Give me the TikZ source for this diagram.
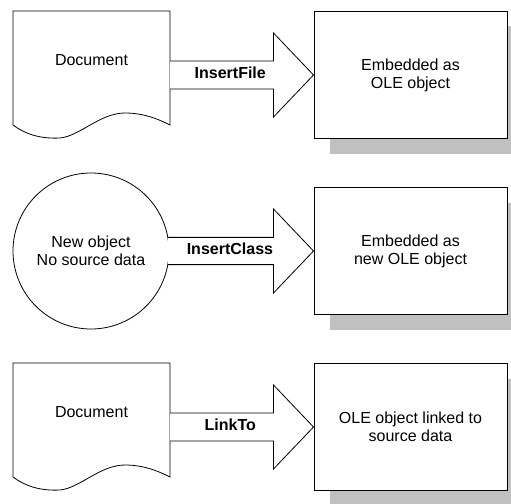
\documentclass[tikz,border=0pt]{standalone}
\usepackage{fontspec}
\setmainfont{Liberation Sans}
\usetikzlibrary{calc,shadows}
\definecolor{ombre}{RGB}{192,192,192}

\begin{document}
\begin{tikzpicture}[x=1pt,y=-1pt]
    \useasboundingbox (0,0) rectangle (511,503);
    \tikzstyle{contour}=[draw=black,line width=0.8pt,fill=white]
    \tikzstyle{texte}=[font=\fontsize{16}{18}\selectfont,align=center]
    \tikzstyle{boite}=[contour,texte,line width=1pt,minimum width=193pt,minimum height=127pt,
        drop shadow={shadow xshift=16pt,shadow yshift=-15pt,fill=ombre,opacity=1}]
    \tikzstyle{fleche}=[contour,line join=miter]
    \tikzstyle{etiquette}=[font=\fontsize{16}{18}\selectfont\bfseries,inner sep=0pt]

    %%%%%%%%%%%%%%%%%%%%%%%%%%%%%%%%%%%%%% Documents
    \draw[contour] (13,11)--(170,11)--(170,125) .. controls (160,120) and (145,113) .. (125,113)
        .. controls (100,113) and (80,136) .. (60,138) .. controls (40,139) and (25,134) .. (13,125)--cycle;
    \node[texte] (doc1) at (91.5,60) {Document};

    \draw[contour] (13,363)--(170,363)--(170,477) .. controls (160,472) and (145,465) .. (125,465)
        .. controls (100,465) and (80,488) .. (60,490) .. controls (40,491) and (25,486) .. (13,477)--cycle;
    \node[texte] (doc3) at (91.5,412) {Document};

    %%%%%%%%%%%%%%%%%%%%%%%%%%%%%%%%%%%%%% Cercle
    \node[contour,texte,circle,minimum size=156pt] (obj2) at (91,251) {New object\\No source data};

    %%%%%%%%%%%%%%%%%%%%%%%%%%%%%%%%%%%%%% Boites
    \node[boite] (b1) at (410.5,75) {Embedded as\\OLE object};
    \node[boite] (b2) at (410.5,251) {Embedded as\\new OLE object};
    \node[boite] (b3) at (410.5,427) {OLE object linked to\\source data};

    %%%%%%%%%%%%%%%%%%%%%%%%%%%%%%%%%%%%%% Fleches
    \coordinate (s1) at (170,75);
    \coordinate (h1) at ($(b1.west)+(-40,0)$);
    \draw[fleche] ($(s1)+(0,-14)$)--($(h1)+(0,-14)$)--($(h1)+(0,-42)$)--(b1.west)
        --($(h1)+(0,42)$)--($(h1)+(0,14)$)--($(s1)+(0,14)$);
    \node[etiquette] (l1) at ($(s1)!0.42!(b1.west)+(0,-2)$) {InsertFile};

    \coordinate (h2) at ($(b2.west)+(-40,0)$);
    \draw[fleche] (obj2.10)--(obj2.10 -| h2)--($(h2)+(0,-42)$)--(b2.west)
        --($(h2)+(0,42)$)--(obj2.-10 -| h2)--(obj2.-10);
    \node[etiquette] (l2) at ($(obj2.east)!0.42!(b2.west)+(0,-2)$) {InsertClass};

    \coordinate (s3) at (170,427);
    \coordinate (h3) at ($(b3.west)+(-40,0)$);
    \draw[fleche] ($(s3)+(0,-14)$)--($(h3)+(0,-14)$)--($(h3)+(0,-42)$)--(b3.west)
        --($(h3)+(0,42)$)--($(h3)+(0,14)$)--($(s3)+(0,14)$);
    \node[etiquette] (l3) at ($(s3)!0.42!(b3.west)+(0,-2)$) {LinkTo};
\end{tikzpicture}
\end{document}
